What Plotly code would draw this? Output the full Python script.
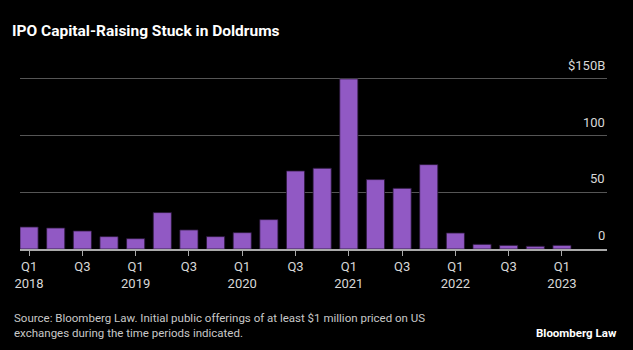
import plotly.graph_objects as go

quarters = ["Q1 2018","Q2 2018","Q3 2018","Q4 2018",
            "Q1 2019","Q2 2019","Q3 2019","Q4 2019",
            "Q1 2020","Q2 2020","Q3 2020","Q4 2020",
            "Q1 2021","Q2 2021","Q3 2021","Q4 2021",
            "Q1 2022","Q2 2022","Q3 2022","Q4 2022",
            "Q1 2023"]
values = [19.4, 18.5, 15.9, 10.9, 9.1, 32.1, 16.8, 10.9, 14.4, 25.9,
          68.8, 71.2, 150.0, 61.2, 53.5, 74.4, 14.1, 4.1, 3.2, 2.4, 3.2]
tick_positions = [0, 2, 4, 6, 8, 10, 12, 14, 16, 18, 20]
tick_labels = ["Q1<br>2018", "Q3", "Q1<br>2019", "Q3", "Q1<br>2020", "Q3",
               "Q1<br>2021", "Q3", "Q1<br>2022", "Q3", "Q1<br>2023"]
y_ticks = [0, 50, 100, 150]
y_tick_labels = ["0", "50", "100", "$150B"]

FONT = "Roboto, Liberation Sans, sans-serif"

# plot area in pixels: x 20..607, y 67..249
PL, PR, PT, PB = 20, 607, 67, 249
def px_x(p):
    return (p - PL) / (PR - PL)
def px_y(p):
    return (PB - p) / (PB - PT)

x = list(range(len(values)))
fig = go.Figure()
fig.add_trace(go.Bar(
    x=x, y=values, width=0.68,
    marker=dict(color="#9159c4", line=dict(color="#2a1838", width=0.8)),
    hovertext=quarters,
))

for v, lab in zip(y_ticks, y_tick_labels):
    fig.add_annotation(x=1, xref="paper", xanchor="right", y=v, yref="y",
                       yanchor="bottom", yshift=4, text=lab, showarrow=False,
                       font=dict(family=FONT, size=13, color="#d8d8d8"))

fig.add_annotation(x=px_x(12), xref="paper", xanchor="left", y=px_y(342), yref="paper",
                   yanchor="bottom", align="left", showarrow=False,
                   text="Source: Bloomberg Law. Initial public offerings of at least $1 million priced on US<br>exchanges during the time periods indicated.",
                   font=dict(family=FONT, size=11.5, color="#c8c8c8"))
fig.add_annotation(x=px_x(619), xref="paper", xanchor="right", y=px_y(342), yref="paper",
                   yanchor="bottom", showarrow=False, text="<b>Bloomberg Law</b>",
                   font=dict(family=FONT, size=11.5, color="#ffffff"))

fig.update_layout(
    width=633, height=350,
    margin=dict(l=PL, r=633 - PR, t=PT, b=350 - PB),
    paper_bgcolor="#000000", plot_bgcolor="#000000",
    showlegend=False,
    title=dict(text="<b>IPO Capital-Raising Stuck in Doldrums</b>",
               x=12/633, xanchor="left", y=1-31/350, yanchor="middle",
               font=dict(family=FONT, size=15.5, color="#ffffff")),
    xaxis=dict(range=[-0.34, 21.69], tickmode="array", tickvals=tick_positions,
               ticktext=tick_labels, ticks="outside", ticklen=5, tickcolor="#aaaaaa",
               tickwidth=1, showgrid=False, zeroline=False, showline=True,
               linecolor="#aaaaaa", linewidth=1.5,
               tickfont=dict(family=FONT, size=13, color="#d8d8d8")),
    yaxis=dict(range=[0, 160.5], tickvals=y_ticks, showticklabels=False,
               showgrid=True, gridcolor="#555555", gridwidth=1.2, zeroline=False),
    bargap=0.3,
)

fig.write_html("out.html")
